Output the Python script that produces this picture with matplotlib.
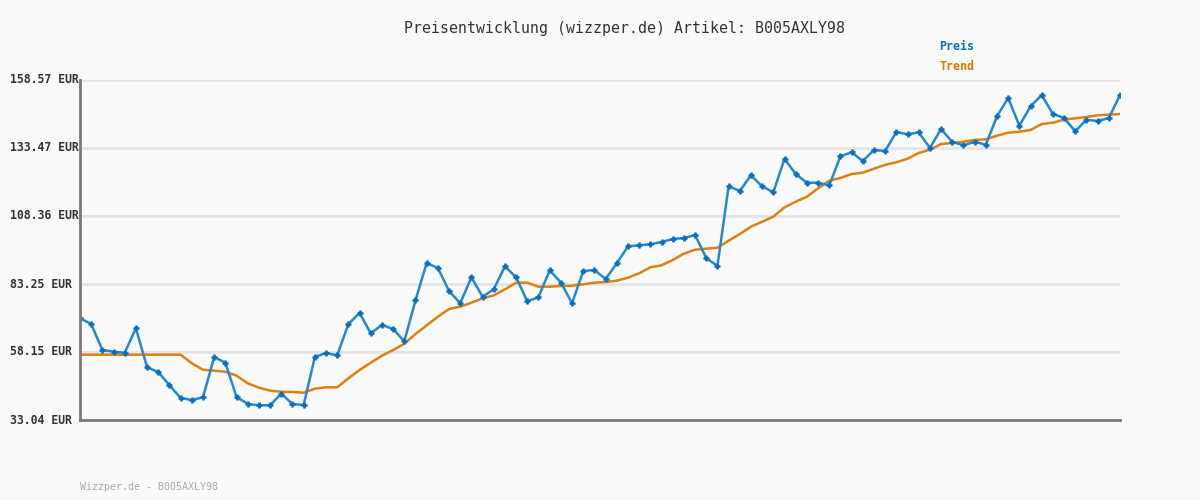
import matplotlib
matplotlib.use("Agg")
import matplotlib.pyplot as plt
import matplotlib.transforms as mtransforms

# ── data ─────────────────────────────────────────────────────────────────
price = [70.59, 68.48, 58.88, 58.26, 57.89, 66.89, 52.50, 50.76, 45.85, 41.16,
         40.42, 41.42, 56.30, 54.19, 41.53, 38.95, 38.47, 38.47, 42.75, 38.95,
         38.58, 56.30, 57.78, 56.93, 68.48, 72.54, 65.05, 68.11, 66.64, 62.10,
         77.23, 91.00, 89.16, 80.67, 76.13, 85.72, 78.56, 81.29, 89.79, 85.72,
         76.86, 78.34, 88.31, 83.80, 76.13, 88.05, 88.42, 85.10, 90.89, 97.17,
         97.54, 97.91, 98.76, 99.87, 100.23, 101.34, 92.85, 89.90, 119.32, 117.59,
         123.38, 119.32, 117.11, 129.51, 123.86, 120.65, 120.65, 119.69, 130.40, 131.88,
         128.66, 132.73, 132.36, 139.37, 138.52, 139.26, 133.46, 140.48, 135.68, 134.46,
         135.79, 134.68, 145.17, 151.92, 141.70, 148.86, 153.03, 146.02, 144.54, 139.63,
         143.91, 143.43, 144.54, 153.03]

trend = [57.15, 57.15, 57.15, 57.15, 57.15, 57.15, 57.15, 57.15, 57.15, 57.15,
         53.97, 51.61, 51.24, 50.87, 49.40, 46.59, 44.96, 43.86, 43.49, 43.38,
         43.12, 44.60, 45.11, 45.11, 48.43, 51.50, 54.19, 56.78, 58.88, 61.21,
         64.79, 68.00, 71.18, 74.02, 74.87, 76.35, 77.97, 79.08, 81.29, 83.73,
         83.73, 82.25, 82.25, 82.51, 82.62, 83.14, 83.73, 83.99, 84.47, 85.58,
         87.20, 89.42, 90.15, 92.11, 94.44, 95.92, 96.28, 96.65, 99.24, 101.71,
         104.41, 106.25, 108.10, 111.57, 113.64, 115.48, 118.58, 121.39, 122.39, 123.86,
         124.34, 125.82, 127.26, 128.18, 129.51, 131.62, 132.84, 134.94, 135.31, 135.79,
         136.42, 136.68, 138.00, 139.11, 139.48, 140.11, 142.32, 142.80, 143.91, 144.43,
         144.91, 145.54, 145.76, 146.02]

y_ticks = [33.04, 58.15, 83.25, 108.36, 133.47, 158.57]
y_labels = ["33.04 EUR", "58.15 EUR", "83.25 EUR", "108.36 EUR", "133.47 EUR", "158.57 EUR"]

title = "Preisentwicklung (wizzper.de) Artikel: B005AXLY98"
footer = "Wizzper.de - B005AXLY98"

BG = "#fafafa"
BLUE = "#2389d0"
BLUE_DARK = "#0a6fc2"
ORANGE = "#e0800f"
MONO = "DejaVu Sans Mono"

fig = plt.figure(figsize=(12, 5), dpi=100, facecolor=BG)
ax = fig.add_axes([80 / 1200, 80 / 500, 1040 / 1200, 340 / 500], facecolor=BG)

xs = list(range(len(price)))
ax.plot(xs, trend, color=ORANGE, lw=1.8, zorder=3)
ax.plot(xs, price, color=BLUE, lw=1.8, zorder=4,
        marker="+", ms=5, mew=1.9, mec=BLUE_DARK)

ax.set_xlim(0, len(price) - 1)
ax.set_ylim(y_ticks[0], y_ticks[-1])
ax.set_yticks(y_ticks)
ax.set_yticklabels([])
ax.set_xticks([])
ax.tick_params(length=0)
ax.grid(axis="y", color="#e4e4e4", lw=2.0, zorder=0)
for side in ("top", "right"):
    ax.spines[side].set_visible(False)
for side in ("left", "bottom"):
    ax.spines[side].set_color("#7a7a7a")
    ax.spines[side].set_linewidth(2.0)
    ax.spines[side].set_zorder(5)

# y labels are left-aligned at the figure edge
trans = mtransforms.blended_transform_factory(fig.transFigure, ax.transData)
for v, lab in zip(y_ticks, y_labels):
    ax.text(10 / 1200, v, lab, transform=trans, ha="left", va="center",
            family=MONO, fontsize=8.3, fontweight="bold", color="#333333",
            clip_on=False)

fig.text(624 / 1200, 1 - 28 / 500, title, ha="center", va="center",
         family=MONO, fontsize=10.7, color="#333333")
fig.text(939 / 1200, 1 - 47 / 500, "Preis", ha="left", va="center",
         family=MONO, fontsize=8.4, fontweight="bold", color=BLUE_DARK)
fig.text(939 / 1200, 1 - 67 / 500, "Trend", ha="left", va="center",
         family=MONO, fontsize=8.4, fontweight="bold", color="#db7a00")
fig.text(80 / 1200, 1 - 487 / 500, footer, ha="left", va="center",
         family=MONO, fontsize=7.2, color="#aaaaaa")

fig.savefig("out.png", dpi=100, facecolor=BG)
